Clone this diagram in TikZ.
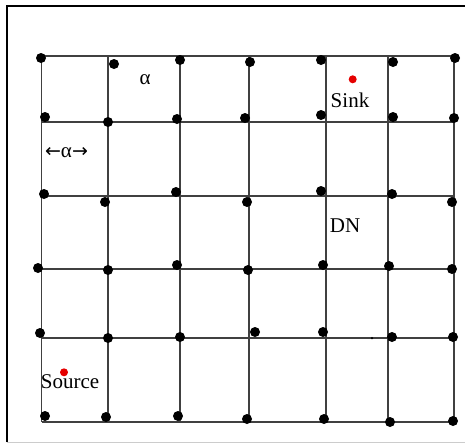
\documentclass[tikz,border=0pt]{standalone}
\usepackage{fontspec}
\setmainfont{Liberation Serif}
\newfontfamily\arrowfont{DejaVu Sans}
\begin{document}
\begin{tikzpicture}[x=1pt,y=-1pt,
  gridline/.style={draw=black!75,line width=1.3pt},
  dotnode/.style={circle,fill=black,inner sep=0pt,minimum size=10pt},
  reddot/.style={circle,fill=red!90!black,inner sep=0pt,minimum size=8pt},
  speck/.style={circle,fill=black,inner sep=0pt,minimum size=2.5pt},
  lbl/.style={inner sep=0pt,font=\fontsize{21}{24}\selectfont}]
\useasboundingbox (0,0) rectangle (465,445);
% frame
\coordinate (fbl) at (7,442);
\coordinate (ftl) at (7,6);
\coordinate (ftr) at (466,6);
\coordinate (fbr) at (466,442);
\draw[line width=1.6pt] (fbl) -- (ftl) -- (ftr);
\draw[black!20,line width=1pt] (fbl) -- (fbr);
% grid lines
\foreach \x [count=\i] in {41.5,108,180,249,326,388,454} {
  \coordinate (vt\i) at (\x,56);
  \coordinate (vb\i) at (\x,422);
  \draw[gridline] (vt\i) -- (vb\i);
}
\foreach \y [count=\j] in {56,122,196,269,338,422} {
  \coordinate (hl\j) at (41.5,\y);
  \coordinate (hr\j) at (454,\y);
  \draw[gridline] (hl\j) -- (hr\j);
}
% sensor dots
\foreach \x/\y [count=\k] in {
  41/58,114/64,180/60,250/62,321/60,393/62,455/58,
  45/117,108/122,177/119,245/118,321/115,393/117,454/118,
  44/194,105/202,176/192,247/202,321/191,392/194,452/202,
  38/268,108/270,177/265,248/270,323/265,389/266,452/269,
  40/333,108/338,180/337,255/332,323/332,392/337,453/337,
  45/416,106/417,178/416,247/419,324/419,390/422,453/421} {
  \node[dotnode] (d\k) at (\x,\y) {};
}
\node[speck] (s1) at (372,338) {};
% red dots
\node[reddot] (sink) at (352.7,79.3) {};
\node[reddot] (source) at (64,372.3) {};
% labels
\node[lbl] (alpha) at (145,80) {α};
\node[lbl] (alphaarrow) at (66.5,153) {{\arrowfont\fontsize{19}{22}\selectfont←}α{\arrowfont\fontsize{19}{22}\selectfont→}};
\node[lbl] (sinklbl) at (350,100) {Sink};
\node[lbl] (dn) at (345,226) {DN};
\node[lbl] (srclbl) at (70,382) {Source};
\end{tikzpicture}
\end{document}
